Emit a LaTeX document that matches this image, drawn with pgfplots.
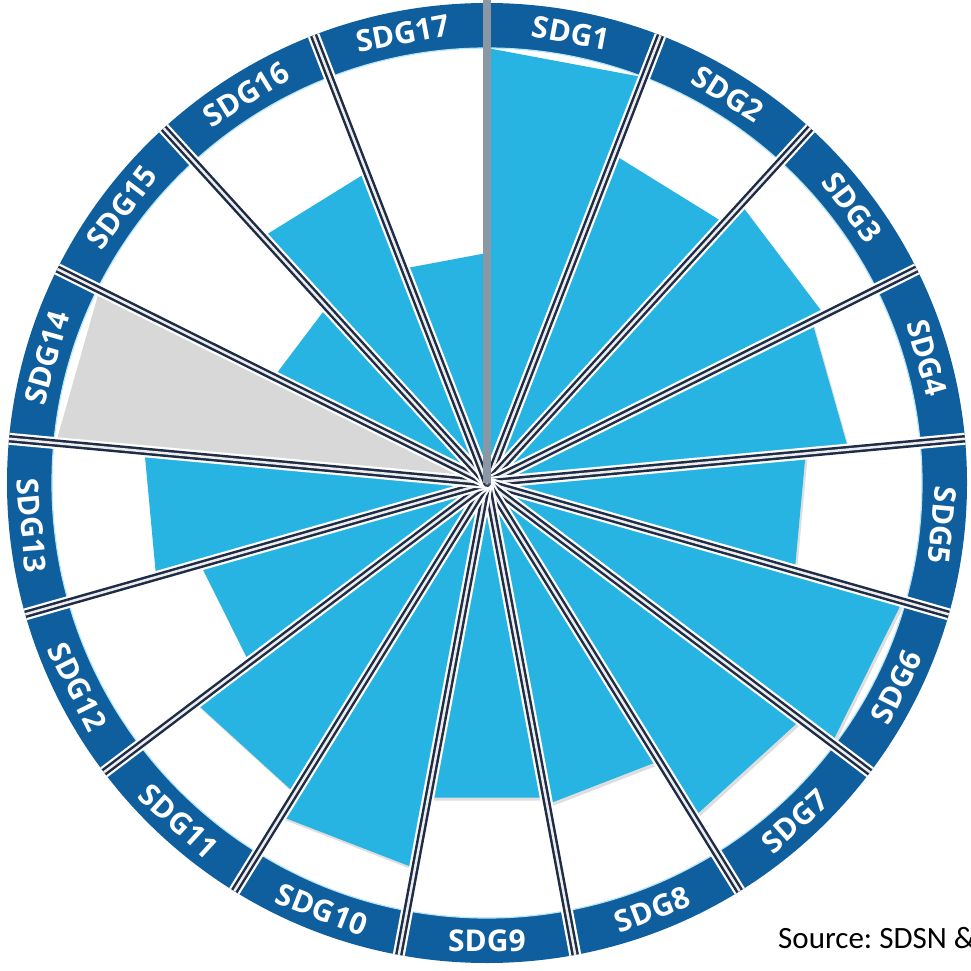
\documentclass[border=0pt]{standalone}
\usepackage{pgfplots}
\pgfplotsset{compat=1.18}
\usepackage{fontspec}
\setmainfont{Open Sans}
\newfontfamily\srcfont{Carlito}
\definecolor{barblue}{HTML}{27B4E2}
\definecolor{ringblue}{HTML}{0F5E9D}
\definecolor{sepdark}{HTML}{1F2C46}
\definecolor{sepgrey}{HTML}{8A97A5}
\definecolor{greybar}{HTML}{D8D8D8}

% start angle, end angle (degrees, math convention), radius, colour
\newcommand\barsdata[1]{%
 #1{90}{68.82}{435}{barblue}%      SDG1
 #1{68.82}{47.65}{352}{barblue}%   SDG2
 #1{47.65}{26.47}{377}{barblue}%   SDG3
 #1{26.47}{5.29}{363}{barblue}%    SDG4
 #1{5.29}{-15.88}{320}{barblue}%   SDG5
 #1{-15.88}{-37.06}{432}{barblue}% SDG6
 #1{-37.06}{-58.24}{393}{barblue}% SDG7
 #1{-58.24}{-79.41}{327}{barblue}% SDG8
 #1{-79.41}{-100.59}{320}{barblue}% SDG9
 #1{-100.59}{-121.76}{392}{barblue}% SDG10
 #1{-121.76}{-142.94}{365}{barblue}% SDG11
 #1{-142.94}{-164.12}{298}{barblue}% SDG12
 #1{-164.12}{-185.29}{344}{barblue}% SDG13
 #1{-185.29}{-206.47}{433}{greybar}% SDG14
 #1{-206.47}{-227.65}{238}{barblue}% SDG15
 #1{-227.65}{-248.82}{333}{barblue}% SDG16
 #1{-248.82}{-270}{230}{barblue}%   SDG17
}
\newcommand\sdgshadow[4]{\addplot[fill=black, fill opacity=0.13, draw=none, data cs=polar, xshift=2pt, yshift=-3pt] coordinates {(#1,0) (#1,#3) (#2,#3) (#2,0)} -- cycle;}
\newcommand\sdgbar[4]{\addplot[fill=#4, draw=none, data cs=polar] coordinates {(#1,0) (#1,#3) (#2,#3) (#2,0)} -- cycle;}

\begin{document}
\frenchspacing
\begin{tikzpicture}
\begin{axis}[hide axis, scale only axis, x=1pt, y=1pt,
  xmin=-487, xmax=484, ymin=-487, ymax=483, clip=false]
\barsdata\sdgshadow
\barsdata\sdgbar
\coordinate (O) at (axis cs:0,0);
\coordinate (BL) at (axis cs:-487,-487);
\coordinate (TR) at (axis cs:484,483);
\end{axis}
% outer ring
\fill[ringblue, even odd rule] (O) circle[radius=480pt] (O) circle[radius=435pt];
\draw[white!70!cyan, line width=1.2pt] (O) circle[radius=435pt];
% separators
\foreach \a in {68.82,47.65,26.47,5.29,-15.88,-37.06,-58.24,-79.41,-100.59,-121.76,-142.94,-164.12,-185.29,-206.47,-227.65,-248.82}{
  \draw[white, line width=12pt] (O) -- ++(\a:480pt);
  \draw[sepdark, line width=7.5pt] (O) -- ++(\a:480pt);
  \draw[white!85!gray, line width=2.5pt] (O) -- ++(\a:480pt);
}
\draw[sepgrey, line width=8pt] (O) -- ++(90:484pt);
% labels
\foreach \k in {1,...,17}{
  \pgfmathsetmacro\c{(\k-0.5)*360/17}
  \pgfmathsetmacro\rot{((\k>5) && (\k<14)) ? 180-\c : -\c}
  \node[rotate=\rot, text=white, inner sep=0pt, font=\bfseries\fontsize{30}{30}\selectfont]
    at ([shift={(90-\c:457.5pt)}]O) {SDG\k};
}
\node[anchor=base west, inner sep=0pt, font=\srcfont\fontsize{31}{31}\selectfont]
  at ([shift={(291pt,-465pt)}]O) {Source: SDSN \&};
\pgfresetboundingbox
\path[use as bounding box] (BL) rectangle (TR);
\end{tikzpicture}
\end{document}
